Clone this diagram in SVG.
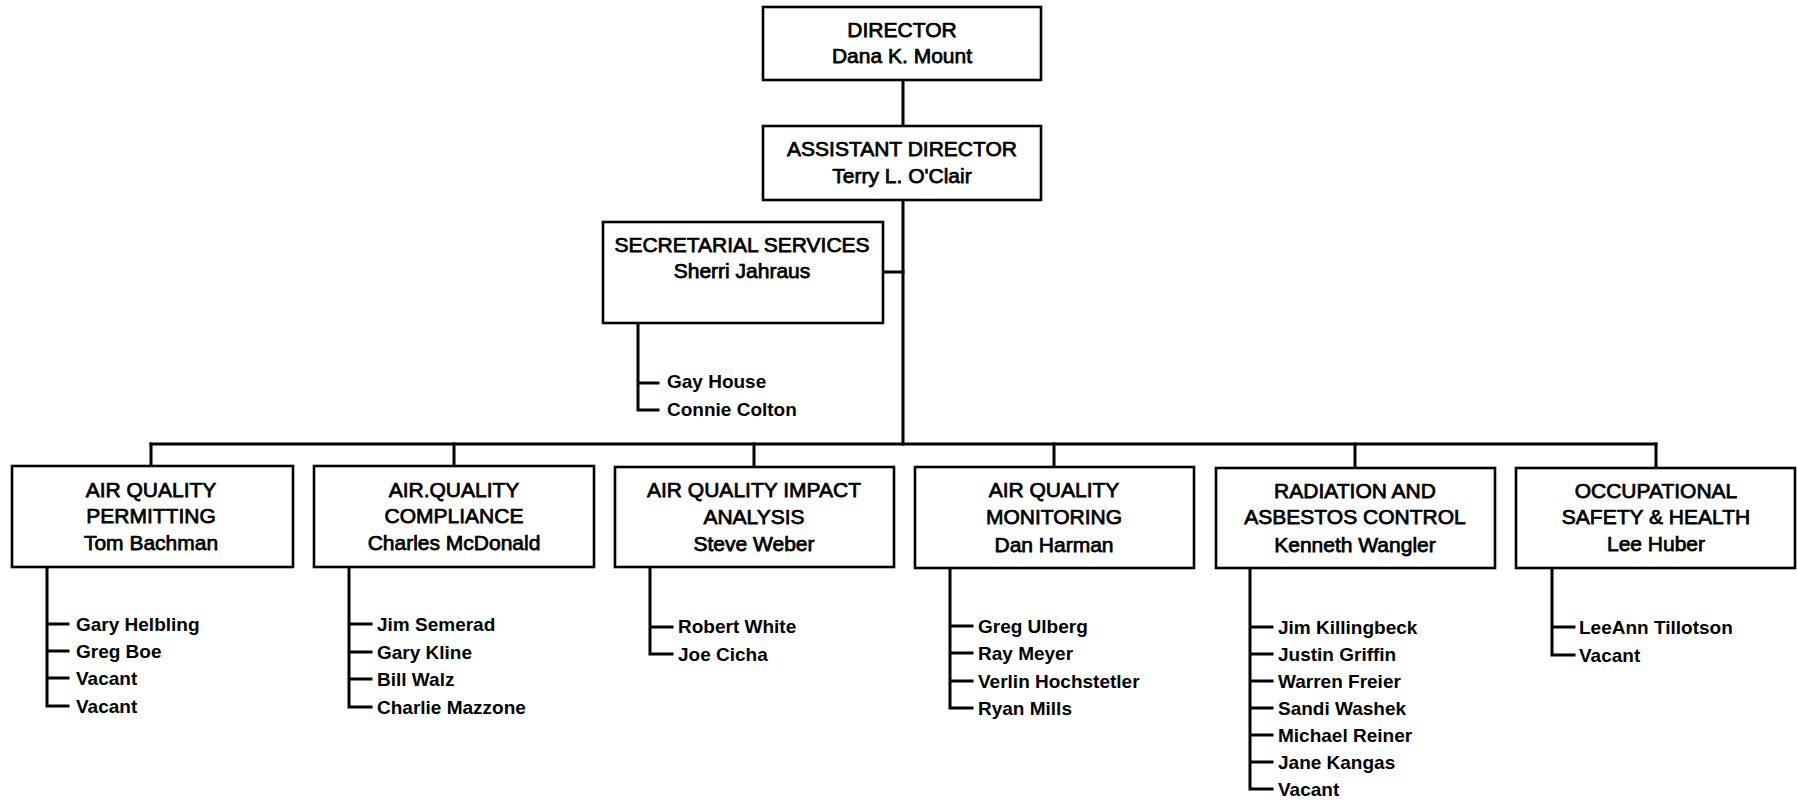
<svg xmlns="http://www.w3.org/2000/svg" width="1797" height="800" viewBox="0 0 1797 800">
<style>
.box{fill:#fff;stroke:#000;stroke-width:2.6}
.ln{fill:none;stroke:#000;stroke-width:3;stroke-linecap:square}
.t{font-family:"Liberation Sans",Arial,sans-serif;font-size:21px;text-anchor:middle;fill:#000;stroke:#000;stroke-width:0.75}
.s{font-family:"Liberation Sans",Arial,sans-serif;font-size:19px;font-weight:bold;fill:#000}
</style>
<rect width="1797" height="800" fill="#fff"/>
<g id="connectors">
<path class="ln" d="M903 80V126"/>
<path class="ln" d="M903 200V444"/>
<path class="ln" d="M883 272H903"/>
<path class="ln" d="M151 444H1656"/>
<path class="ln" d="M151 444V466M454 444V466M754 444V466M1054 444V466M1355 444V466M1656 444V466"/>
<path class="ln" d="M638 323V410H658M638 383H658"/>
<path class="ln" d="M47 567V706H68M47 624H68M47 651H68M47 678H68"/>
<path class="ln" d="M349 567V707H371M349 624H371M349 652H371M349 679H371"/>
<path class="ln" d="M650 567V654H672M650 627H672"/>
<path class="ln" d="M950 568V708H972M950 626H972M950 653H972M950 681H972"/>
<path class="ln" d="M1250 568V789H1272M1250 627H1272M1250 654H1272M1250 681H1272M1250 708H1272M1250 735H1272M1250 762H1272"/>
<path class="ln" d="M1552 568V655H1574M1552 627H1574"/>
</g>
<g id="director">
<rect class="box" x="763" y="7" width="278" height="73"/>
<text class="t" x="902" y="37">DIRECTOR</text>
<text class="t" x="902" y="63">Dana K. Mount</text>
</g>
<g id="assistant-director">
<rect class="box" x="763" y="126" width="278" height="74"/>
<text class="t" x="902" y="156">ASSISTANT DIRECTOR</text>
<text class="t" x="902" y="183">Terry L. O'Clair</text>
</g>
<g id="secretarial">
<rect class="box" x="603" y="222" width="280" height="101"/>
<text class="t" x="742" y="252">SECRETARIAL SERVICES</text>
<text class="t" x="742" y="278">Sherri Jahraus</text>
<text class="s" x="667" y="388">Gay House</text>
<text class="s" x="667" y="416">Connie Colton</text>
</g>
<g id="permitting">
<rect class="box" x="12" y="466" width="281" height="101"/>
<text class="t" x="151" y="497">AIR QUALITY</text>
<text class="t" x="151" y="523">PERMITTING</text>
<text class="t" x="151" y="550">Tom Bachman</text>
<text class="s" x="76" y="631">Gary Helbling</text>
<text class="s" x="76" y="658">Greg Boe</text>
<text class="s" x="76" y="685">Vacant</text>
<text class="s" x="76" y="713">Vacant</text>
</g>
<g id="compliance">
<rect class="box" x="314" y="466" width="280" height="101"/>
<text class="t" x="454" y="497">AIR.QUALITY</text>
<text class="t" x="454" y="523">COMPLIANCE</text>
<text class="t" x="454" y="550">Charles McDonald</text>
<text class="s" x="377" y="631">Jim Semerad</text>
<text class="s" x="377" y="659">Gary Kline</text>
<text class="s" x="377" y="686">Bill Walz</text>
<text class="s" x="377" y="714">Charlie Mazzone</text>
</g>
<g id="impact-analysis">
<rect class="box" x="615" y="467" width="279" height="100"/>
<text class="t" x="754" y="497">AIR QUALITY IMPACT</text>
<text class="t" x="754" y="524">ANALYSIS</text>
<text class="t" x="754" y="551">Steve Weber</text>
<text class="s" x="678" y="633">Robert White</text>
<text class="s" x="678" y="661">Joe Cicha</text>
</g>
<g id="monitoring">
<rect class="box" x="915" y="467" width="279" height="101"/>
<text class="t" x="1054" y="497">AIR QUALITY</text>
<text class="t" x="1054" y="524">MONITORING</text>
<text class="t" x="1054" y="552">Dan Harman</text>
<text class="s" x="978" y="633">Greg Ulberg</text>
<text class="s" x="978" y="660">Ray Meyer</text>
<text class="s" x="978" y="688">Verlin Hochstetler</text>
<text class="s" x="978" y="715">Ryan Mills</text>
</g>
<g id="radiation">
<rect class="box" x="1216" y="468" width="279" height="100"/>
<text class="t" x="1355" y="498">RADIATION AND</text>
<text class="t" x="1355" y="524">ASBESTOS CONTROL</text>
<text class="t" x="1355" y="552">Kenneth Wangler</text>
<text class="s" x="1278" y="634">Jim Killingbeck</text>
<text class="s" x="1278" y="661">Justin Griffin</text>
<text class="s" x="1278" y="688">Warren Freier</text>
<text class="s" x="1278" y="715">Sandi Washek</text>
<text class="s" x="1278" y="742">Michael Reiner</text>
<text class="s" x="1278" y="769">Jane Kangas</text>
<text class="s" x="1278" y="796">Vacant</text>
</g>
<g id="safety">
<rect class="box" x="1516" y="468" width="279" height="100"/>
<text class="t" x="1656" y="498">OCCUPATIONAL</text>
<text class="t" x="1656" y="524">SAFETY &amp; HEALTH</text>
<text class="t" x="1656" y="551">Lee Huber</text>
<text class="s" x="1579" y="634">LeeAnn Tillotson</text>
<text class="s" x="1579" y="662">Vacant</text>
</g>
</svg>
